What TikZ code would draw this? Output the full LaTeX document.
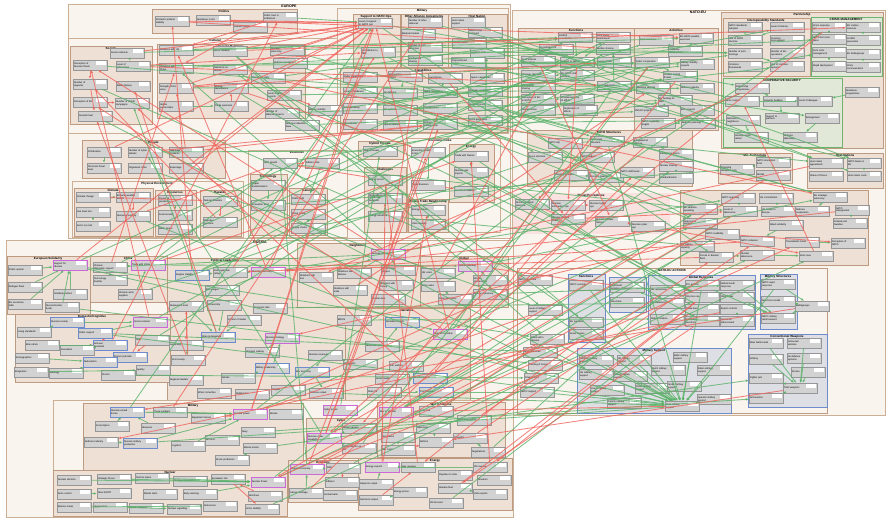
\documentclass[tikz,border=0pt]{standalone}
\usepackage{fontspec}
\setmainfont{Liberation Sans}
\usetikzlibrary{arrows.meta}
\definecolor{zonefill}{RGB}{250,244,239}
\definecolor{zoneline}{RGB}{205,175,150}
\definecolor{subfill}{RGB}{238,224,213}
\definecolor{subline}{RGB}{190,155,128}
\definecolor{grnfill}{RGB}{226,232,216}
\definecolor{grnline}{RGB}{110,180,110}
\definecolor{bluefill}{RGB}{222,223,228}
\definecolor{blueline}{RGB}{110,140,205}
\definecolor{pinkfill}{RGB}{250,226,224}
\definecolor{itemfill}{RGB}{210,210,210}
\definecolor{itemline}{RGB}{150,150,150}
\definecolor{posline}{RGB}{90,178,105}
\definecolor{negline}{RGB}{240,100,92}
\definecolor{violetline}{RGB}{205,105,215}
\tikzset{
  item/.style={draw=itemline, fill=itemfill, line width=0.3pt, minimum width=34pt,
    minimum height=10pt, inner sep=1pt, text width=32pt, align=left,
    font=\fontsize{2.4}{2.8}\selectfont,
    execute at begin node={\rightskip=12pt plus 1fil},
    path picture={\fill[white] ([shift={(-11.5pt,-1.2pt)}]path picture bounding box.north east)
      rectangle ([shift={(-1.5pt,-4.6pt)}]path picture bounding box.north east);}},
  pitem/.style={item, draw=violetline, line width=0.7pt},
  bitem/.style={item, draw=blueline, line width=0.6pt},
  zbig/.style={draw=zoneline, fill=zonefill, line width=0.5pt},
  zsub/.style={draw=subline, fill=subfill, line width=0.4pt},
  zgrn/.style={draw=grnline, fill=grnfill, line width=0.6pt},
  zblue/.style={draw=blueline, fill=bluefill, line width=0.6pt},
  zpink/.style={fill=pinkfill, draw=none},
  ztitle/.style={font=\bfseries\fontsize{3}{3.6}\selectfont, inner sep=0.5pt, anchor=north},
  zhead/.style={font=\bfseries\fontsize{3.6}{4.2}\selectfont, inner sep=0.5pt, anchor=north},
  poslink/.style={draw=posline, line width=0.85pt, opacity=0.8, -{Latex[length=3pt,width=2.6pt]}},
  neglink/.style={draw=negline, line width=0.85pt, opacity=0.8, -{Latex[length=3pt,width=2.6pt]}}
}
\begin{document}
\begin{tikzpicture}[x=1pt,y=-1pt]
    \fill[white] (0,0) rectangle (888,524);
    \useasboundingbox (0,0) rectangle (888,524);
    % regions
    \begin{scope}
        \draw[zbig] (68,4) rectangle (510,238);
        \node[zhead] (t-eu) at (289,4.5) {EUROPE};
        \draw[zsub] (152,9) rectangle (297,33);
        \node[ztitle] (t-pol) at (224,9.5) {Politics};
        \draw[zbig] (68,38) rectangle (343,133);
        \node[ztitle] (t-cul) at (215,38.5) {Cultural};
        \draw[zsub] (70,46) rectangle (152,124);
        \node[ztitle] (t-soc) at (111,46.5) {Society};
        \draw[zsub] (157,44) rectangle (305,118);
        \node[ztitle] (t-for) at (231,44.5) {Foreign Relations};
        \draw[zbig] (337,8) rectangle (508,133);
        \node[ztitle] (t-mil) at (422,8.5) {Military};
        \draw[zsub] (353,14) rectangle (400,67);
        \node[ztitle] (t-sup) at (376,14.5) {Support to NATO Ops};
        \draw[zsub] (401,14) rectangle (448,67);
        \node[ztitle] (t-oth) at (424,14.5) {Other Alliance Agreements};
        \draw[zsub] (448,14) rectangle (507,67);
        \node[ztitle] (t-hos) at (477,14.5) {Host Nation};
        \draw[zsub] (340,68) rectangle (507,132);
        \node[ztitle] (t-cap) at (423,68.5) {Capabilities};
        \draw[zsub] (82,140) rectangle (225,178);
        \node[ztitle] (t-thr) at (153,140.5) {Threats};
        \draw[zbig] (72,181) rectangle (243,237);
        \node[ztitle] (t-phy) at (157,181.5) {Physical Environment};
        \draw[zsub] (74,188) rectangle (153,236);
        \node[ztitle] (t-cli) at (113,188.5) {Climate};
        \draw[zsub] (155,190) rectangle (196,236);
        \node[ztitle] (t-res) at (175,190.5) {Resources};
        \draw[zsub] (200,190) rectangle (241,236);
        \node[ztitle] (t-haz) at (220,190.5) {Hazards};
        \draw[zbig] (248,150) rectangle (347,237);
        \node[ztitle] (t-eco) at (297,150.5) {Economic};
        \draw[zsub] (250,174) rectangle (287,235);
        \node[ztitle] (t-tec) at (268,174.5) {Technology};
        \draw[zsub] (289,188) rectangle (327,235);
        \node[ztitle] (t-gen) at (308,188.5) {General};
        \draw[zsub] (358,141) rectangle (403,159);
        \node[ztitle] (t-hyb) at (380,141.5) {Hybrid Threats};
        \draw[zsub] (364,167) rectangle (406,232);
        \node[ztitle] (t-cha) at (385,167.5) {Challenges};
        \draw[zbig] (407,138) rectangle (500,232);
        \node[ztitle] (t-lin) at (440,138.5) {Economic Links};
        \draw[zsub] (449,144) rectangle (494,202);
        \node[ztitle] (t-ene) at (471,144.5) {Energy};
        \draw[zsub] (408,199) rectangle (448,232);
        \node[ztitle] (t-trd) at (428,199.5) {Russia Trade Relationship};
    \end{scope}
    \begin{scope}
        \draw[zbig] (512,10) rectangle (885,415);
        \node[zhead] (t-ne) at (698,10.5) {NATO-EU};
        \draw[zsub] (518,28) rectangle (634,117);
        \node[ztitle] (t-fun) at (576,28.5) {Functions};
        \draw[zsub] (634,28) rectangle (718,130);
        \node[ztitle] (t-act) at (676,28.5) {Activities};
        \draw[zsub] (721,12) rectangle (883,148);
        \node[ztitle] (t-par) at (802,12.5) {Partnership};
        \draw[zsub] (723,18) rectangle (810,76);
        \node[ztitle] (t-int) at (766,18.5) {Interoperability Standards};
        \draw[zgrn] (811,17) rectangle (882,76);
        \node[ztitle] (t-cri) at (846,17.5) {CRISIS MANAGEMENT};
        \draw[zgrn] (723,78) rectangle (842,147);
        \node[ztitle] (t-coo) at (782,78.5) {COOPERATIVE SECURITY};
        \draw[zsub] (527,130) rectangle (692,186);
        \node[ztitle] (t-str) at (609,130.5) {NATO Structures};
        \draw[zsub] (718,153) rectangle (792,183);
        \node[ztitle] (t-mte) at (755,153.5) {Mil. Technology};
        \draw[zsub] (807,153) rectangle (883,188);
        \node[ztitle] (t-hna) at (845,153.5) {Host Nations};
        \fill[zpink] (513,193) rectangle (670,234);
        \node[ztitle] (t-per) at (591,193.5) {Threat Perceptions};
        \draw[zsub] (680,190) rectangle (868,265);
        \draw[zsub, fill=zonefill] (517,268) rectangle (827,413);
        \node[ztitle] (t-acn) at (672,268.5) {NATO-EU ACTIONS};
        \draw[zblue] (568,274) rectangle (605,342);
        \node[ztitle] (t-san) at (586,274.5) {Sanctions};
        \draw[zblue] (609,277) rectangle (646,312);
        \draw[zblue] (648,275) rectangle (755,329);
        \node[ztitle] (t-glo) at (701,275.5) {Global Response};
        \draw[zblue] (760,274) rectangle (797,329);
        \node[ztitle] (t-mst) at (778,274.5) {Military Structures};
        \draw[zblue] (577,348) rectangle (731,413);
        \node[ztitle] (t-msu) at (654,348.5) {Military Support};
        \draw[zblue] (748,334) rectangle (827,407);
        \node[ztitle] (t-con) at (787,334.5) {Conventional Weapons};
    \end{scope}
    \begin{scope}
        \draw[zbig] (6,240) rectangle (513,517);
        \node[zhead] (t-ru) at (260,240.5) {RUSSIA};
        \draw[zsub] (7,256) rectangle (90,314);
        \node[ztitle] (t-esl) at (48,256.5) {European Solidarity};
        \draw[zsub] (90,256) rectangle (167,302);
        \node[ztitle] (t-chi) at (128,256.5) {China};
        \draw[zsub] (167,258) rectangle (470,400);
        \node[ztitle] (t-pll) at (225,258.5) {Political Leadership};
        \draw[zsub] (297,243) rectangle (420,307);
        \node[ztitle] (t-nei) at (358,243.5) {Neighbours};
        \draw[zsub] (420,256) rectangle (508,307);
        \node[ztitle] (t-gl) at (464,256.5) {Global};
        \draw[zsub] (345,308) rectangle (470,400);
        \node[ztitle] (t-nar) at (407,308.5) {Narrative};
        \draw[zsub] (15,314) rectangle (170,382);
        \node[ztitle] (t-dom) at (92,314.5) {Domestic/Cognitive};
        \draw[zbig] (53,400) rectangle (513,517);
        \draw[zsub] (83,403) rectangle (303,470);
        \node[ztitle] (t-mly) at (193,403.5) {Military};
        \draw[zsub] (53,470) rectangle (287,516);
        \node[ztitle] (t-nuc) at (170,470.5) {Nuclear};
        \draw[zsub] (306,418) rectangle (377,458);
        \node[ztitle] (t-cyb) at (341,418.5) {Cyber};
        \draw[zsub] (288,460) rectangle (358,502);
        \node[ztitle] (t-ecy) at (323,460.5) {Economy};
        \draw[zsub] (358,458) rectangle (512,510);
        \node[ztitle] (t-eny) at (435,458.5) {Energy};
        \draw[zsub] (377,402) rectangle (505,457);
        \node[ztitle] (t-war) at (441,402.5) {War in Ukraine};
    \end{scope}
    % europe items
    \node[item] (pa) at (172,21) {Domestic political stability};
    \node[item] (pb) at (213,20) {Resilience in EU};
    \node[item] (pc) at (250,27) {Populist parties};
    \node[item] (pd) at (280,17) {Public trust in institutions};
    \node[item] (sa) at (127,53) {Social cohesion};
    \node[item] (sb) at (90,65) {Perception of Russian threat};
    \node[item] (sc) at (133,66) {Level of polarisation};
    \node[item] (sd) at (90,84) {Number of migrants};
    \node[item] (se) at (133,86) {Media literacy};
    \node[item] (sf) at (90,102) {Perception of EU};
    \node[item] (sg) at (132,103) {Number of disinfo campaigns};
    \node[item] (sh) at (95,116) {Societal trust};
    \node[item] (fa) at (176,50) {Relations with US};
    \node[item] (fb) at (176,68) {Relations with China};
    \node[item] (fc) at (176,88) {Strength of EU voice};
    \node[item] (fd) at (176,106) {Global partnerships};
    \node[item] (fe) at (230,51) {Aid to Ukraine};
    \node[item] (ff) at (230,69) {Sanctions on Russia};
    \node[item] (fg) at (231,88) {Energy dependence};
    \node[item] (fh) at (231,106) {Trade openness};
    \node[item] (fi) at (268,78) {Diplomatic unity};
    \node[item] (ma) at (287,50) {Strategic autonomy};
    \node[item] (mb) at (290,63) {Defence spending};
    \node[item] (mc) at (284,95) {Level of arms exports};
    \node[item] (md) at (282,113) {Number of defence projects};
    \node[item] (me) at (302,125) {Defence industrial base};
    \node[item] (mf) at (325,110) {Military mobility};
    \node[item] (na) at (375,23) {Level of support to NATO ops};
    \node[item] (nb) at (378,52) {Contribution to NRF};
    \node[item] (oa) at (425,22) {Number of other alliances};
    \node[item] (ob) at (418,34) {Bilateral treaties};
    \node[item] (oc) at (425,47) {Number of joint exercises};
    \node[item] (od) at (425,60) {Intelligence sharing};
    \node[item] (ha) at (468,22) {Host nation support};
    \node[item] (hb) at (485,32) {Allied troops stationed};
    \node[item] (hc) at (469,43) {Military bases};
    \node[item] (hd) at (487,53) {Logistics hubs};
    \node[item] (he) at (468,62) {Prepositioned stocks};
    \node[item] (ca) at (360,77) {Cyber capabilities};
    \node[item] (ch) at (405,76) {Ammunition stocks};
    \node[item] (ce) at (445,78) {Land forces};
    \node[item] (cf) at (487,78) {Space capabilities};
    \node[item] (cb) at (360,92) {Level of readiness};
    \node[item] (cc) at (400,93) {Air defence};
    \node[item] (cd) at (440,92) {Naval capabilities};
    \node[item] (cg) at (485,91) {Strategic enablers};
    \node[item] (ci) at (360,108) {Interoperability};
    \node[item] (cj) at (400,110) {C2 systems};
    \node[item] (ck) at (440,108) {Training level};
    \node[item] (cl) at (485,105) {Reserve forces};
    \node[item] (cn) at (360,124) {Recruitment};
    \node[item] (co) at (400,125) {Hybrid defence};
    \node[item] (cp) at (440,124) {Critical infrastructure};
    \node[item] (cm) at (485,120) {Force generation};
    \node[item] (tf) at (104,152) {Proliferation};
    \node[item] (ta) at (104,168) {Terrorism threat level};
    \node[item] (tb) at (145,152) {Number of cyber attacks};
    \node[item] (tc) at (145,168) {Organised crime};
    \node[item] (td) at (186,152) {Sabotage incidents};
    \node[item] (te) at (186,168) {Espionage};
    \node[item] (ea) at (93,197) {Climate change};
    \node[item] (eb) at (133,197) {Extreme weather events};
    \node[item] (ec) at (93,212) {Sea level rise};
    \node[item] (ed) at (93,226) {Arctic ice melt};
    \node[item] (ee) at (133,216) {Resource scarcity};
    \node[item] (ef) at (175,200) {Impact of pandemics};
    \node[item] (eg) at (175,215) {Food security};
    \node[item] (eh) at (175,229) {Water stress};
    \node[item] (ei) at (220,201) {Natural disasters};
    \node[item] (ej) at (220,222) {Migration pressure};
    \node[item] (ga) at (280,163) {GDP growth};
    \node[item] (gb) at (322,163) {Inflation rate};
    \node[item] (gc) at (268,185) {Digital transformation};
    \node[item] (gd) at (268,205) {Innovation level};
    \node[item] (ge) at (308,199) {Public debt};
    \node[item] (gf) at (308,214) {Fiscal space};
    \node[item] (gg) at (308,228) {Supply chains};
    \node[item] (ia) at (380,151) {Hybrid threats};
    \node[item] (ka) at (385,180) {Energy prices};
    \node[item] (kb) at (385,198) {Dependence on critical raw materials};
    \node[item] (kc) at (385,216) {Energy transition};
    \node[item] (ra) at (428,152) {Economic growth in EU};
    \node[item] (rb) at (471,156) {Trade with Russia};
    \node[item] (rc) at (471,172) {Russian gas imports};
    \node[item] (rd) at (428,185) {Trade diversion};
    \node[item] (re) at (471,191) {Sanctions evasion};
    \node[item] (rf) at (428,210) {Energy imports};
    \node[item] (rg) at (428,224) {LNG capacity};
    % nato-eu items
    \node[item] (ua) at (575,37) {Political consultation};
    \node[item] (ub) at (613,37) {Joint threat assessment};
    \node[item] (uc) at (556,49) {Coordination of positions};
    \node[item] (ud) at (613,49) {Burden sharing};
    \node[item] (ue) at (538,61) {Joint political declarations};
    \node[item] (uf) at (577,62) {Support to NATO};
    \node[item] (ug) at (614,62) {Level of trust};
    \node[item] (uh) at (538,75) {Strategic dialogue};
    \node[item] (ui) at (577,75) {EU-NATO staff contacts};
    \node[item] (uk) at (614,86) {Joint statements};
    \node[item] (uj) at (538,87) {Information sharing};
    \node[item] (ul) at (538,99) {Perception of EU in NATO};
    \node[item] (um) at (577,99) {Complementarity of efforts};
    \node[item] (un) at (538,110) {Shared vision};
    \node[item] (uo) at (580,110) {Duplication of efforts};
    \node[item] (va) at (656,40) {Joint exercises};
    \node[item] (vb) at (696,38) {EU-NATO parallel exercises};
    \node[item] (vc) at (685,51) {Capability development};
    \node[item] (vd) at (652,62) {Cyber cooperation};
    \node[item] (ve) at (697,64) {Military mobility projects};
    \node[item] (vf) at (680,76) {Counter hybrid threats};
    \node[item] (vg) at (653,88) {Maritime security};
    \node[item] (vh) at (697,88) {Defence industry};
    \node[item] (vi) at (675,100) {EU funding for R\&D};
    \node[item] (vj) at (651,111) {PESCO projects};
    \node[item] (vk) at (697,110) {EDF projects};
    \node[item] (vl) at (658,123) {NATO capability targets};
    \node[item] (vm) at (698,123) {Defence planning};
    \node[item] (wa) at (745,27) {NATO standards adopted};
    \node[item] (wb) at (787,27) {Level of interop.};
    \node[item] (wd) at (745,40) {Use of NATO doctrine};
    \node[item] (wc) at (787,40) {Common procurement};
    \node[item] (wf) at (745,53) {Number of joint trainings};
    \node[item] (we) at (787,53) {Number of EU operations};
    \node[item] (wh) at (745,66) {Common frameworks};
    \node[item] (wg) at (787,66) {Use of common systems};
    \node[item] (xa) at (829,27) {Crisis response ops};
    \node[item] (xb) at (863,27) {EU civilian missions};
    \node[item] (xc) at (829,39) {NATO-EU crisis plans};
    \node[item] (xd) at (863,40) {Conflict prevention};
    \node[item] (xe) at (829,52) {Joint crisis management};
    \node[item] (xf) at (863,54) {EU battlegroups};
    \node[item] (xg) at (829,66) {Rapid deployment};
    \node[item] (xh) at (863,67) {Crisis communication};
    \node[item] (ya) at (752,88) {Partnership programmes};
    \node[item] (yb) at (742,101) {Arms control};
    \node[item] (yc) at (780,101) {Capacity building};
    \node[item] (yd) at (815,101) {Level of dialogue};
    \node[item] (ye) at (782,118) {Support to partners};
    \node[item] (yf) at (743,120) {Outreach to neighbours};
    \node[item] (yg) at (822,118) {Enlargement};
    \node[item] (yh) at (751,137) {Security sector reform};
    \node[item] (yi) at (800,137) {Defence diplomacy};
    \node[item] (yj) at (862,92) {Resilience programmes};
    \node[item] (za) at (565,143) {NATO HQ};
    \node[item] (zb) at (607,141) {Command structure};
    \node[item] (zc) at (545,157) {Force structure};
    \node[item] (zd) at (597,157) {NATO budget};
    \node[item] (ze) at (650,142) {Integrated air defence};
    \node[item] (zf) at (676,154) {Intelligence fusion};
    \node[item] (zg) at (676,166) {Nuclear sharing};
    \node[item] (zh) at (571,175) {Planning process};
    \node[item] (zk) at (606,177) {Decision making};
    \node[item] (zi) at (637,172) {NATO staff levels};
    \node[item] (zj) at (676,178) {Standardisation};
    \node[item] (qa) at (737,169) {Emerging disruptive tech};
    \node[item] (qb) at (773,162) {NATO innovation fund};
    \node[item] (qc) at (773,175) {DIANA};
    \node[item] (ja) at (826,163) {Host nation agreements};
    \node[item] (jb) at (864,163) {NATO bases in EU};
    \node[item] (jc) at (826,176) {Status of forces};
    \node[item] (jd) at (864,176) {Host nation costs};
    \node[item] (la) at (532,204) {Russian political pressure};
    \node[item] (lb) at (568,205) {Russian information ops};
    \node[item] (lc) at (606,205) {Russian hybrid ops};
    \node[item] (ld) at (568,219) {Russian military threat};
    \node[item] (le) at (612,221) {Russian nuclear rhetoric};
    \node[item] (lf) at (648,226) {Russian cyber ops};
    \node[item] (bb) at (738,198) {NATO spending};
    \node[item] (bd) at (776,198) {US commitment};
    \node[item] (bf) at (830,197) {EU strategic autonomy};
    \node[item] (ba) at (700,209) {EU defence spending};
    \node[item] (bc) at (740,211) {Level of deterrence};
    \node[item] (be) at (778,211) {US troops in Europe};
    \node[item] (bg) at (812,211) {Defence cooperation};
    \node[item] (bh) at (852,210) {NATO enlargement};
    \node[item] (bj) at (700,223) {Deterrence posture};
    \node[item] (bl) at (786,225) {Allied solidarity};
    \node[item] (bi) at (850,223) {Finland and Sweden};
    \node[item] (bk) at (722,234) {NATO credibility};
    \node[item] (bm) at (697,246) {EU military capacity};
    \node[item] (bn) at (757,241) {NATO cohesion};
    \node[item] (bo) at (802,242) {Transatlantic bond};
    \node[item] (bp) at (848,243) {Perception of NATO};
    \node[item] (bq) at (716,257) {Forces in Eastern flank};
    \node[item] (br) at (757,255) {Nuclear deterrence};
    \node[item] (bs) at (816,256) {Arms race};
    \node[item] (aa) at (535,280) {NATO response};
    \node[item] (ab) at (545,310) {Level of military support};
    \node[item] (ac) at (547,339) {Allied aid to Ukraine};
    \node[item] (ad) at (540,352) {Arms deliveries};
    \node[item] (ae) at (545,365) {Training of troops};
    \node[item] (af) at (541,378) {Financial aid};
    \node[item] (ag) at (537,392) {NATO support};
    \node[item] (da) at (586,285) {NATO summits};
    \node[item] (db) at (586,322) {EU sanctions};
    \node[item] (dc) at (586,334) {Asset freezes};
    \node[item] (dd) at (627,287) {Diplomatic isolation of Russia};
    \node[item] (de) at (627,302) {Visa bans};
    \node[item] (gra) at (667,290) {UN resolutions};
    \node[item] (grb) at (667,303) {G7 statements};
    \node[item] (grc) at (702,285) {ICC actions};
    \node[item] (grd) at (702,297) {Oil price cap};
    \node[item] (gre) at (702,309) {Trade bans};
    \node[item] (grf) at (737,285) {Global South response};
    \node[item] (grg) at (737,297) {SWIFT ban};
    \node[item] (grh) at (737,309) {Export controls};
    \node[item] (gri) at (667,319) {Global isolation};
    \node[item] (grj) at (702,321) {Secondary sanctions};
    \node[item] (grk) at (737,321) {Sanctions enforcement};
    \node[item] (msa) at (778,284) {NATO rapid response};
    \node[item] (msb) at (778,301) {New force model};
    \node[item] (msc) at (778,318) {NATO military reinforcement};
    \node[item] (msd) at (812,306) {Battlegroups};
    \node[item] (fpa) at (596,360) {German military support};
    \node[item] (fpb) at (634,360) {UK military support};
    \node[item] (fph) at (690,357) {Baltic military support};
    \node[item] (fpc) at (596,374) {US military support};
    \node[item] (fpd) at (630,376) {French military support};
    \node[item] (fpf) at (668,370) {Dutch military support};
    \node[item] (fpi) at (714,370) {Italian military support};
    \node[item] (fpe) at (652,388) {Polish military support};
    \node[item] (fpg) at (684,386) {Nordic military support};
    \node[item] (fpj) at (714,399) {Spanish military support};
    \node[item] (fpl) at (607,390) {Czech military support};
    \node[item] (fpm) at (624,403) {Turkish military support};
    \node[item] (fpn) at (682,406) {Total military support};
    \node[item] (cwa) at (766,343) {Main battle tanks};
    \node[item] (cwb) at (804,343) {Armoured vehicles};
    \node[item] (cwc) at (766,359) {Artillery};
    \node[item] (cwd) at (804,358) {Air defence systems};
    \node[item] (cwe) at (808,372) {Drones};
    \node[item] (cwf) at (766,378) {Fighter jets};
    \node[item] (cwg) at (800,388) {Total weapons};
    \node[item] (cwh) at (766,398) {Ammunition};
    % russia items
    \node[pitem] (esa) at (70,265) {Support for Ukraine};
    \node[item] (esb) at (25,270) {Public opinion};
    \node[item] (esc) at (25,287) {Refugee flows};
    \node[item] (esd) at (70,294) {Solidarity actions};
    \node[item] (ese) at (25,304) {EU accession talks};
    \node[item] (esf) at (62,307) {Reconstruction funds};
    \node[item] (cha) at (110,267) {Chinese diplomatic support};
    \node[pitem] (chb) at (148,265) {Trade with China};
    \node[item] (chc) at (110,280) {Technology transfer};
    \node[item] (chd) at (135,294) {Chinese arms supplies};
    \node[bitem] (pla) at (192,275) {Regime stability};
    \node[item] (plb) at (230,272) {Putin approval rating};
    \node[pitem] (plc) at (268,272) {Russian elite unity};
    \node[item] (pld) at (222,290) {Elite purges};
    \node[item] (ple) at (186,306) {Repression level};
    \node[item] (plf) at (224,305) {Censorship};
    \node[item] (plj) at (270,308) {Economic elite};
    \node[item] (plg) at (244,320) {Control of media};
    \node[bitem] (plh) at (218,337) {State propaganda};
    \node[item] (pli) at (186,345) {Legitimacy};
    \node[pitem] (pll) at (282,338) {Russian strategy};
    \node[item] (plm) at (262,352) {Decision making};
    \node[item] (plk) at (188,360) {Civil society};
    \node[bitem] (pln) at (272,368) {Military leadership};
    \node[item] (plo) at (238,378) {Siloviki};
    \node[item] (plq) at (186,380) {Regional leaders};
    \node[item] (plr) at (214,393) {Ethnic minorities};
    \node[item] (pls) at (252,394) {Mobilisation};
    \node[item] (plp) at (288,390) {Wagner};
    \node[bitem] (plt) at (312,372) {War economy};
    \node[item] (plu) at (326,393) {Defence output};
    \node[item] (plv) at (325,355) {Russian revenues};
    \node[item] (plx) at (360,364) {Oil exports};
    \node[pitem] (mea) at (388,254) {Russian alliances};
    \node[item] (meb) at (316,277) {Relations with Iran};
    \node[item] (mec) at (354,273) {Relations with Belarus};
    \node[item] (med) at (398,270) {North Korea support};
    \node[item] (mee) at (350,290) {Relations with India};
    \node[item] (mef) at (396,285) {Relations with Turkey};
    \node[item] (meg) at (388,299) {Central Asia};
    \node[item] (meh) at (354,320) {BRICS};
    \node[pitem] (gla) at (475,266) {Global standing};
    \node[item] (glb) at (438,273) {UN votes};
    \node[item] (glc) at (490,280) {African partnerships};
    \node[item] (gld) at (438,286) {Arms sales};
    \node[item] (gle) at (455,299) {Grain diplomacy};
    \node[item] (glf) at (490,294) {Energy diplomacy};
    \node[bitem] (nra) at (402,322) {Narrative control};
    \node[pitem] (nrb) at (450,334) {Russian narrative};
    \node[item] (nri) at (382,346) {Historical myths};
    \node[item] (nrc) at (406,366) {Info warfare};
    \node[bitem] (nrd) at (430,378) {Disinformation};
    \node[item] (nrh) at (392,379) {Social media};
    \node[item] (nrg) at (384,392) {State TV};
    \node[bitem] (nrf) at (436,392) {Troll factories};
    \node[bitem] (dca) at (67,322) {Russian society};
    \node[bitem] (dcb) at (95,333) {Public support};
    \node[pitem] (dcc) at (150,322) {Social contract};
    \node[item] (dcd) at (34,332) {Living standards};
    \node[item] (dce) at (42,345) {Brain drain};
    \node[bitem] (dcf) at (110,345) {Anti-war sentiment};
    \node[item] (dcg) at (77,350) {Casualties};
    \node[item] (dci) at (152,340) {Fear};
    \node[bitem] (dch) at (130,357) {Protest potential};
    \node[item] (dcj) at (32,358) {Demographics};
    \node[bitem] (dck) at (100,362) {Nationalism};
    \node[item] (dcl) at (153,370) {Apathy};
    \node[item] (dcm) at (31,372) {Emigration};
    \node[item] (dcn) at (66,373) {Ideology};
    \node[item] (dco) at (118,375) {Church};
    \node[bitem] (mda) at (127,412) {Russian armed forces};
    \node[item] (mdb) at (170,412) {Troop numbers};
    \node[item] (mdc) at (208,418) {Equipment losses};
    \node[pitem] (mdd) at (250,414) {Combat power};
    \node[item] (mde) at (286,414) {Morale};
    \node[item] (mdf) at (112,426) {Conscription};
    \node[item] (mdg) at (158,428) {Reserves};
    \node[item] (mdh) at (101,442) {Defence industry};
    \node[bitem] (mdi) at (140,443) {Russian military production};
    \node[item] (mdj) at (188,446) {Logistics};
    \node[item] (mdk) at (222,440) {Air force};
    \node[item] (mdl) at (258,432) {Navy};
    \node[item] (mdm) at (260,448) {Missile stocks};
    \node[item] (mdn) at (232,460) {Drone production};
    \node[item] (nua) at (74,480) {Nuclear doctrine};
    \node[item] (nub) at (114,479) {Strategic forces};
    \node[item] (nuc) at (152,478) {Tactical nukes};
    \node[item] (nud) at (190,481) {Nuclear exercises};
    \node[item] (nue) at (228,479) {Escalation risk};
    \node[pitem] (nuf) at (268,482) {Nuclear threat};
    \node[item] (nug) at (74,494) {Arms control};
    \node[item] (nui) at (114,493) {New START};
    \node[item] (nuj) at (160,494) {Missile tests};
    \node[item] (nuh) at (200,494) {Early warning};
    \node[item] (nuk) at (265,496) {Red lines};
    \node[item] (nul) at (74,507) {Belarus nukes};
    \node[item] (num) at (110,507) {Hypersonics};
    \node[item] (nun) at (146,508) {Space weapons};
    \node[item] (nuo) at (184,509) {Nuclear signalling};
    \node[item] (nup) at (220,506) {Deterrence};
    \node[item] (nuq) at (262,509) {Crisis stability};
    \node[pitem] (cya) at (340,410) {Cyber power};
    \node[pitem] (cyb) at (324,438) {Russian cyber capability};
    \node[item] (cyc) at (359,428) {Hacker groups};
    \node[item] (cyd) at (359,448) {Cyber attacks on EU};
    \node[pitem] (eca) at (307,469) {Russian economy};
    \node[item] (ecb) at (343,468) {GDP};
    \node[item] (ecc) at (342,482) {Inflation};
    \node[item] (ecd) at (306,493) {Labour shortage};
    \node[item] (ece) at (340,495) {Central bank};
    \node[pitem] (gsa) at (382,467) {Energy exports};
    \node[item] (gsb) at (418,467) {Gas revenue};
    \node[item] (gsd) at (455,475) {Pipelines to Asia};
    \node[item] (gsc) at (490,467) {Oil revenue};
    \node[item] (gse) at (376,484) {Gazprom output};
    \node[item] (gsi) at (410,492) {Energy prices};
    \node[item] (gsf) at (455,488) {Shadow fleet};
    \node[item] (gsg) at (494,480) {Rosatom};
    \node[item] (gsh) at (490,494) {LNG exports};
    \node[item] (gsj) at (376,500) {Sanctions impact};
    \node[item] (gsk) at (446,503) {Oil discount};
    \node[pitem] (wra) at (396,412) {War in Ukraine};
    \node[item] (wrb) at (436,411) {Front line};
    \node[item] (wrc) at (474,420) {Territorial control};
    \node[item] (wrd) at (433,428) {Offensives};
    \node[item] (wre) at (398,437) {Occupation};
    \node[item] (wrf) at (436,442) {Attrition};
    \node[item] (wrg) at (470,438) {Ceasefire};
    \node[item] (wrh) at (488,452) {Negotiations};
    \node[item] (wri) at (398,450) {War costs};
    % links
    \foreach \a/\b in {fpa/fpn, fpb/fpn, fpc/fpn, fpd/fpn, fpe/fpn, fpf/fpn, fpg/fpn, fph/fpn, fpi/fpn, fpj/fpn, fpl/fpn, fpm/fpn,
        esa/fpn, dcb/fpn, mdi/fpn, aa/fpn, ab/fpn, da/fpn, grc/fpn, msa/fpn, zb/fpn, ac/fpn, ad/fpn, ag/fpn,
        cwa/cwg, cwb/cwg, cwc/cwg, cwd/cwg, cwe/cwg, cwf/cwg, cwh/cwg,
        gra/dd, grb/dd, gri/grk, grc/msc, grf/msc, grg/msc, grh/grk, msa/msd, msb/msd, msc/msd,
        ua/uf, ub/uf, uc/uf, ue/uf, ug/ud, uh/ui, uj/ui, ul/um, un/um, uk/ud,
        va/vc, vb/vc, vd/vf, ve/vh, vi/vj, vk/vm, vl/vm,
        wa/wd, wb/wd, wf/wg, wh/xe, xa/xc, xb/xd, xe/xg, xf/xh,
        ya/yc, yb/yd, yc/ye, yf/yh, yg/yi, yj/yd,
        za/zb, zc/zd, ze/zf, zg/zj, zh/zk, qa/qb, qb/qc, ja/jd, jb/jd,
        ba/bc, bb/bc, bd/be, bf/bg, bh/bi, bj/bk, bl/bn, bo/bp, bq/br, br/bs,
        sa/ua, sc/ug, fa/ub, fb/uc, fe/ab, ff/db, fg/ka, fi/ua, ma/vb, mb/ve, mc/vh, md/vi, me/vj, mf/ve,
        na/ya, nb/wf, oa/yb, oc/wf, od/xc, ha/jb, hb/ja, ca/vd, cb/bc, ci/wb, cj/wg, ck/va, cl/bf, cn/yf, co/vf, cp/ja,
        ga/ba, gb/ge, gc/gd, ia/vf, ka/kc, ra/rd, rb/rc,
        cha/mea, chb/gla, pla/plb, plb/plc, pld/plc, ple/plh, plf/plh, plg/plh, pli/plk, plm/pll, pln/pll, plo/pln, plt/plu, plv/plt, plx/plv,
        mea/glb, meb/mea, mec/mea, med/mea, glc/gla, gld/gla, gle/gld, glf/glc, nra/nrb, nrc/nrd, nrg/nrf, nrh/nrd, nri/nra,
        dca/dcc, dcb/dcc, dcd/dca, dce/dcf, dcg/dcf, dcj/dck, dcm/dcl, dcn/dck,
        mda/mdd, mdb/mdd, mdf/mda, mdg/mda, mdh/mdi, mdi/mdd, mdj/mdd, mdk/mdl, mdn/mdm,
        nua/nuf, nub/nuf, nuc/nuf, nud/nuf, nug/nui, nuh/nuf, nul/nup, num/nuo,
        cyc/cyb, cyd/cyb, eca/ecb, ecd/eca, gsa/gsb, gsc/gsa, gse/gsa, gsf/gsh, gsi/gsj, wrb/wra, wrc/wra, wrd/wrf, wre/wri, wrg/wrh,
        mdd/bj, wra/bk, nuf/br, chb/ga, esa/ac, dcb/ad, eca/ga, cya/ia, gla/bf, plh/sg, cyb/tb, mea/fb, wra/ba, wrb/bm, pla/ud, mda/ca,
        esb/esa, esc/esa, esd/esa, ese/esa, esf/esa, cha/chb, chc/cha, chd/chb,
        tb/ia, tf/ta, ea/eb, ec/ed, ef/eg, gf/gg, rf/rg,
        pd/na, sa/sc, fd/fh, me/na, cm/hd, ce/cd, cf/cg, ch/cc,
        esa/ua, pla/vd, dcc/ug, mdd/zb, nuf/zg, plc/bb, gla/xa, nrb/uk, chb/ub, cha/uh, mea/ya, wra/bc, sb/ul, fc/uk,
        ff/grd, fe/ac, ma/bf, mb/ba, na/bq, nb/bj, cb/bj, cl/zb, ck/zc, ci/wf, od/yg, hc/ja, he/jb, ga/vi, ra/grd, rc/grd, rb/gre,
        sh/fpc, sd/aa, tc/ab, ee/af, ei/ae, gd/qa, gg/zh, kc/bm, re/grj, plj/grb, meh/gri, glf/grf, nrf/ag, dco/af, esf/ae,
        mdl/cwh, mdm/cwf, nuq/bs, gsk/gre, wrh/gra, cyd/vd, ecb/grd, plu/fpn, chd/zc, dci/ul}
        \draw[poslink] (\a) -- (\b);
    \foreach \a/\b in {pa/na, pb/na, pd/fa, sa/na, fa/na, fe/na, fi/na, ma/na, sc/nb, fc/na, pc/fb, sb/sd, sd/sh, sf/sg, fh/fg, fc/fi, mc/mf,
        fg/ra, tb/cp, td/cp, ea/ei, eb/ee, ei/ej, ga/gb, kb/rf, rc/rb, rd/re,
        la/ld, lb/lc, le/lf, lf/bs, ld/bc, bs/yb, bk/bp, plc/na, mea/sb, nrb/sf, wra/ac, mdd/ca, nuf/bo, plh/se, cyb/cp, gsa/kb, gsb/ka, eca/ra, chb/rb,
        ple/pli, plk/ple, dcf/dcb, dch/dcc, dci/dch, mdc/mdd, nue/nuq, nuk/nue, wrf/wri, gsj/gsb, ecc/ecb,
        ab/mdd, ac/wrb, db/eca, dc/gsb, dd/gla, grd/gsc, gre/eca, grh/mdh, grj/gsf, fpn/wrb, cwg/wrf, msd/mda, bq/plb, bk/pll,
        ze/cyb, ya/meb, bh/plc, xa/nrb, vf/nrd, vd/cyc, ja/mea, zb/la, uf/lb, ue/le, qc/cyb, ce/ld, bc/nuf, bn/plc,
        plc/fa, pla/pa, dcc/sb, mea/oa, nrb/na, cha/fb, esa/na, tf/na, te/na, td/fc, ej/sd, ee/ga, ka/ga, gsa/rf, mdd/na, cyb/ck, plb/nb,
        fe/xb, pa/ud, sc/uk, fc/ug, fi/bf, pb/vb,
        nrc/sg, plk/sh, dcf/pd, mdb/ob, gsc/rb, gsf/grd, ecd/zi, plp/lf, wrc/bq, wrg/bn, mee/vg, glb/uj}
        \draw[neglink] (\a) -- (\b);
\end{tikzpicture}
\end{document}
